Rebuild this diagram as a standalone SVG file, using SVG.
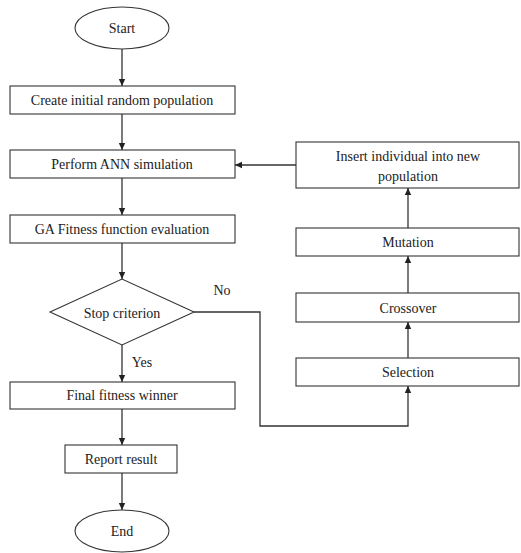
<svg xmlns="http://www.w3.org/2000/svg" width="521" height="553" viewBox="0 0 521 553">
<style>
.n{fill:#fff;stroke:#333;stroke-width:1.1}
.t{font-family:"Liberation Serif","Times New Roman",serif;font-size:14px;fill:#222;text-anchor:middle;dominant-baseline:central}
.c{fill:none;stroke:#333;stroke-width:1.3}
</style>
<defs>
<marker id="a" markerWidth="8" markerHeight="8" refX="7" refY="4" orient="auto" markerUnits="userSpaceOnUse">
<path d="M0,0.8 L7,4 L0,7.2 Z" fill="#222"/>
</marker>
</defs>
<rect width="521" height="553" fill="#fff"/>
<g id="connectors">
<line class="c" x1="122" y1="49" x2="122" y2="86" marker-end="url(#a)"/>
<line class="c" x1="122" y1="114" x2="122" y2="150" marker-end="url(#a)"/>
<line class="c" x1="122" y1="178" x2="122" y2="215" marker-end="url(#a)"/>
<line class="c" x1="122" y1="243" x2="122" y2="279" marker-end="url(#a)"/>
<line class="c" x1="122" y1="345" x2="122" y2="382" marker-end="url(#a)"/>
<line class="c" x1="122" y1="409" x2="122" y2="445" marker-end="url(#a)"/>
<line class="c" x1="122" y1="473" x2="122" y2="510" marker-end="url(#a)"/>
<polyline class="c" points="194,312 260,312 260,426 408,426 408,386" marker-end="url(#a)"/>
<line class="c" x1="408" y1="358" x2="408" y2="322" marker-end="url(#a)"/>
<line class="c" x1="408" y1="293" x2="408" y2="256" marker-end="url(#a)"/>
<line class="c" x1="408" y1="228" x2="408" y2="188" marker-end="url(#a)"/>
<line class="c" x1="296" y1="165" x2="235" y2="165" marker-end="url(#a)"/>
<text class="t" x="222" y="290">No</text>
<text class="t" x="142" y="362">Yes</text>
</g>
<g id="start"><ellipse class="n" cx="122" cy="28" rx="47" ry="21"/><text class="t" x="122" y="28">Start</text></g>
<g id="create"><rect class="n" x="10" y="86" width="225" height="28"/><text class="t" x="122" y="100">Create initial random population</text></g>
<g id="perform"><rect class="n" x="10" y="150" width="225" height="28"/><text class="t" x="122" y="164">Perform ANN simulation</text></g>
<g id="fitness"><rect class="n" x="10" y="215" width="225" height="28"/><text class="t" x="122" y="229">GA Fitness function evaluation</text></g>
<g id="stop"><polygon class="n" points="50,312 122,279 194,312 122,345"/><text class="t" x="122" y="313">Stop criterion</text></g>
<g id="final"><rect class="n" x="10" y="382" width="225" height="27"/><text class="t" x="122" y="395.5">Final fitness winner</text></g>
<g id="report"><rect class="n" x="65" y="445" width="112" height="28"/><text class="t" x="121" y="459">Report result</text></g>
<g id="end"><ellipse class="n" cx="122" cy="531" rx="47" ry="21"/><text class="t" x="122" y="531">End</text></g>
<g id="insert"><rect class="n" x="296" y="142" width="223" height="46"/><text class="t" x="408" y="156">Insert individual into new</text><text class="t" x="408" y="176">population</text></g>
<g id="mutation"><rect class="n" x="296" y="228" width="223" height="28"/><text class="t" x="408" y="242">Mutation</text></g>
<g id="crossover"><rect class="n" x="296" y="293" width="223" height="29"/><text class="t" x="408" y="308">Crossover</text></g>
<g id="selection"><rect class="n" x="296" y="358" width="223" height="28"/><text class="t" x="408" y="372">Selection</text></g>
</svg>
